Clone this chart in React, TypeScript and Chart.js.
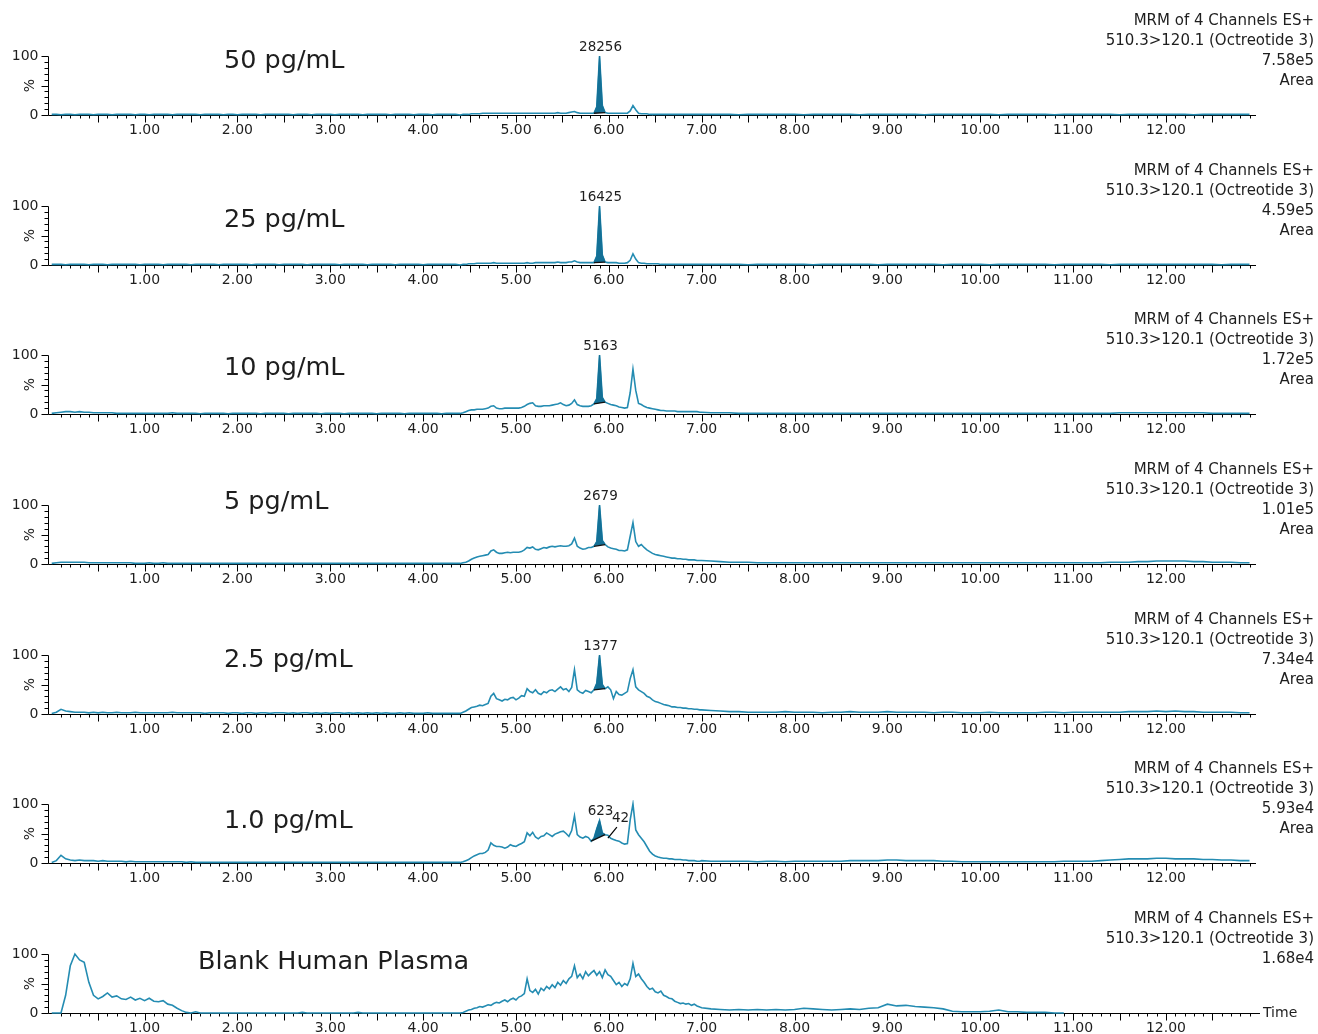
import React, { useEffect, useRef } from "react";
import { Chart, registerables } from "chart.js";

Chart.register(...registerables);

// ---------------- DATA ----------------
const SAMPLE_NAMES = ["50 pg/mL", "25 pg/mL", "10 pg/mL", "5 pg/mL", "2.5 pg/mL", "1.0 pg/mL", "Blank Human Plasma"];
const HEADER_LINE1 = "MRM of 4 Channels ES+";
const HEADER_LINE2 = "510.3>120.1 (Octreotide 3)";
const INTENSITIES = ["7.58e5", "4.59e5", "1.72e5", "1.01e5", "7.34e4", "5.93e4", "1.68e4"];
const SHOW_AREA = [true, true, true, true, true, true, false];
const PEAK_AREAS = ["28256", "16425", "5163", "2679", "1377", "623", ""];
const PEAK_APEX_TIME = 5.9;
const PEAK_START = [5.84, 5.84, 5.84, 5.84, 5.84, 5.81, 0];
const PEAK_END = [5.96, 5.96, 5.96, 5.96, 5.96, 5.96, 0];
const SECOND_PEAK = { panel: 5, label: "42", time: 5.99, value: 42 };

const X_TICK_VALUES = [1, 2, 3, 4, 5, 6, 7, 8, 9, 10, 11, 12];
const X_TICK_LABELS = ["1.00", "2.00", "3.00", "4.00", "5.00", "6.00", "7.00", "8.00", "9.00", "10.00", "11.00", "12.00"];
const Y_TICK_LABELS = ["0", "100"];

// sampling grid of the chromatograms (minutes)
const grid = (a: number, b: number, step: number) => {
  const n = Math.round((b - a) / step);
  const out: number[] = [];
  for (let i = 0; i <= n; i++) out.push(+(a + i * step).toFixed(2));
  return out;
};
const TIME = [...grid(0, 4.35, 0.05), ...grid(4.4, 6.98, 0.03), ...grid(7.0, 12.9, 0.1)];

// intensities (%) : 88 pts (0-4.35) | 87 pts (4.40-6.98) | 60 pts (7.0-12.9)
const TRACE_50 = [
  1, 1, 0.5, 1, 1, 0.5, 1, 1, 1, 0.5,
  1, 1, 1, 0.5, 1, 1, 1, 1, 0.5, 1,
  1, 0.5, 1, 1, 1, 1, 0.5, 1, 1, 1,
  1, 1, 0.5, 1, 1, 1, 1, 0.5, 1, 1,
  0.5, 1, 1, 1, 1, 0.5, 1, 1, 1, 1,
  1, 1, 0.5, 1, 1, 1, 0.5, 1, 1, 1,
  1, 0.5, 1, 1, 1, 1, 1, 0.5, 1, 1,
  1, 1, 1, 0.5, 1, 1, 1, 1, 0.5, 1,
  1, 1, 0.5, 1, 1, 1, 1, 1,
  0, 1, 1, 1, 2, 2, 2, 2, 3, 3,
  3, 3, 3, 3, 3, 3, 3, 3, 3, 3,
  3, 3, 3, 3, 3, 3, 3, 3, 3, 3,
  3, 3, 3, 3, 3, 4, 3, 3, 3, 4,
  5, 6, 4, 3, 3, 3, 3, 3, 3, 14,
  100, 16, 4, 3, 3, 3, 3, 3, 3, 3,
  3, 7, 16, 9, 3, 2, 2, 2, 1, 1,
  1, 1, 1, 1, 1, 1, 1, 1, 1, 1,
  1, 1, 1, 1, 1, 1, 1,
  1, 1, 1, 1, 0.5, 1, 1, 1, 1, 1,
  1, 0.5, 1, 1, 1, 1, 1, 0.5, 1, 1,
  1, 1, 1, 1, 0.5, 1, 1, 1, 1, 1,
  1, 1, 0.5, 1, 1, 1, 1, 1, 0.5, 1,
  1, 1, 1, 1, 1, 0.5, 1, 1, 1, 1,
  1, 1, 1, 0.5, 1, 1, 1, 1, 1, 1,
];
const TRACE_25 = [
  1, 1, 1, 0.5, 1, 1, 1, 1, 0.5, 1,
  1, 1, 0.5, 1, 1, 1, 1, 1, 1, 0.5,
  1, 1, 1, 1, 0.5, 1, 1, 1, 1, 1,
  0.5, 1, 1, 1, 1, 1, 0.5, 1, 1, 1,
  1, 1, 1, 0.5, 1, 1, 1, 1, 1, 0.5,
  1, 1, 1, 1, 1, 0.5, 1, 1, 1, 1,
  1, 1, 0.5, 1, 1, 1, 1, 1, 0.5, 1,
  1, 1, 1, 1, 0.5, 1, 1, 1, 1, 1,
  0.5, 1, 1, 1, 1, 1, 1, 1,
  0, 1, 1, 2, 2, 2, 3, 3, 3, 3,
  3, 3, 4, 3, 3, 3, 3, 3, 3, 3,
  3, 3, 3, 3, 4, 3, 3, 4, 4, 4,
  4, 4, 4, 4, 4, 5, 4, 4, 4, 5,
  5, 7, 5, 4, 4, 4, 4, 4, 4, 15,
  100, 17, 5, 4, 4, 4, 4, 3, 3, 3,
  4, 8, 19, 10, 4, 3, 3, 2, 2, 2,
  2, 2, 1, 1, 1, 1, 1, 1, 1, 1,
  1, 1, 1, 1, 1, 1, 1,
  1, 1, 1, 1, 1, 0.5, 1, 1, 1, 1,
  1, 1, 0.5, 1, 1, 1, 1, 1, 1, 0.5,
  1, 1, 1, 1, 1, 1, 0.5, 1, 1, 1,
  1, 0.5, 1, 1, 1, 1, 1, 1, 0.5, 1,
  1, 1, 1, 1, 0.5, 1, 1, 1, 1, 1,
  1, 1, 1, 1, 1, 1, 0.5, 1, 1, 1,
];
const TRACE_10 = [
  1, 2, 3, 4, 4, 3, 4, 3, 3, 2,
  2, 2, 2, 2, 1, 1, 1, 1, 1, 1,
  1, 1, 1, 1, 1, 1, 2, 1, 1, 1,
  1, 1, 0.5, 1, 1, 1, 1, 1, 0.5, 1,
  1, 1, 1, 1, 1, 0.5, 1, 1, 1, 1,
  1, 0.5, 1, 1, 1, 1, 1, 1, 0.5, 1,
  1, 1, 1, 0.5, 1, 1, 1, 1, 1, 1,
  0.5, 1, 1, 1, 1, 1, 0.5, 1, 1, 1,
  1, 1, 1, 1, 0.5, 1, 1, 1,
  1, 2, 4, 6, 7, 7, 8, 8, 8, 9,
  10, 13, 14, 10, 9, 9, 10, 10, 10, 10,
  10, 10, 11, 13, 16, 18, 19, 14, 13, 13,
  14, 14, 14, 15, 16, 17, 19, 16, 14, 15,
  18, 24, 16, 14, 13, 13, 13, 14, 17, 26,
  100, 28, 20, 18, 16, 15, 14, 12, 11, 10,
  11, 36, 76, 40, 18, 16, 13, 11, 10, 9,
  8, 7, 6, 6, 5, 5, 5, 5, 4, 4,
  4, 4, 4, 4, 4, 4, 3,
  3, 2, 2, 2, 1, 1, 1, 1, 1, 1,
  1, 1, 1, 1, 1, 1, 1, 1, 1, 1,
  1, 1, 1, 1, 1, 1, 1, 1, 1, 1,
  1, 1, 1, 1, 1, 1, 1, 1, 1, 1,
  1, 1, 1, 1, 1, 2, 2, 2, 2, 2,
  2, 2, 2, 2, 2, 1, 1, 1, 1, 1,
];
const TRACE_5 = [
  1, 2, 3, 3, 3, 3, 3, 3, 2, 2,
  2, 2, 2, 2, 2, 2, 2, 2, 1, 1,
  1, 2, 1, 1, 2, 1, 1, 1, 1, 1,
  1, 1, 1, 1, 1, 1, 1, 1, 1, 1,
  1, 1, 1, 1, 1, 1, 1, 1, 1, 1,
  1, 1, 1, 1, 1, 1, 1, 1, 1, 1,
  1, 1, 1, 1, 1, 1, 1, 1, 1, 1,
  1, 1, 1, 1, 1, 1, 1, 1, 1, 1,
  1, 1, 1, 1, 1, 1, 1, 1,
  1, 2, 3, 5, 8, 10, 12, 13, 14, 15,
  16, 22, 24, 20, 18, 18, 19, 20, 19, 20,
  20, 20, 21, 24, 28, 27, 29, 25, 24, 26,
  28, 27, 29, 30, 29, 30, 31, 30, 30, 31,
  34, 44, 30, 27, 25, 26, 28, 28, 30, 38,
  100, 40, 33, 29, 27, 26, 25, 23, 23, 22,
  24, 47, 70, 38, 30, 33, 28, 24, 21, 18,
  16, 15, 14, 13, 12, 11, 10, 10, 9, 9,
  8, 8, 7, 7, 7, 6, 6,
  6, 5, 4, 3, 3, 3, 2, 2, 2, 2,
  2, 2, 2, 2, 2, 2, 2, 2, 2, 2,
  2, 2, 2, 2, 2, 2, 2, 2, 2, 2,
  2, 2, 2, 2, 2, 2, 2, 2, 2, 2,
  2, 2, 2, 2, 3, 3, 3, 4, 4, 5,
  5, 5, 5, 4, 4, 3, 3, 3, 2, 2,
];
const TRACE_2_5 = [
  1, 3, 8, 5, 4, 3, 3, 3, 2, 3,
  2, 3, 2, 2, 3, 2, 2, 2, 3, 2,
  2, 2, 2, 2, 2, 2, 3, 2, 2, 2,
  2, 2, 2, 1, 2, 2, 2, 2, 1, 2,
  2, 1, 2, 2, 1, 2, 2, 1, 2, 2,
  2, 1, 2, 1, 2, 2, 1, 2, 1, 2,
  1, 2, 2, 1, 2, 1, 2, 1, 2, 1,
  2, 1, 2, 1, 1, 2, 1, 2, 1, 1,
  1, 2, 1, 1, 1, 1, 1, 1,
  1, 3, 5, 8, 11, 12, 13, 15, 14, 16,
  18, 30, 35, 26, 24, 22, 25, 24, 27, 28,
  24, 27, 31, 30, 43, 38, 36, 41, 35, 33,
  38, 36, 40, 41, 38, 42, 46, 41, 43, 38,
  45, 75, 41, 37, 35, 40, 38, 36, 41, 52,
  100, 50, 43, 46, 41, 26, 38, 33, 32, 35,
  38, 60, 75, 46, 41, 38, 35, 30, 28, 24,
  21, 20, 18, 16, 15, 14, 12, 12, 11, 11,
  10, 10, 9, 9, 8, 8, 7,
  7, 6, 5, 4, 4, 3, 3, 3, 3, 4,
  3, 3, 3, 2, 3, 3, 4, 3, 3, 3,
  4, 3, 3, 3, 3, 2, 3, 3, 2, 2,
  2, 3, 2, 2, 2, 2, 2, 3, 3, 2,
  3, 3, 3, 3, 3, 3, 4, 4, 4, 5,
  4, 5, 4, 4, 3, 3, 3, 3, 2, 2,
];
const TRACE_1 = [
  1, 4, 13, 7, 5, 4, 5, 4, 4, 4,
  3, 4, 3, 3, 3, 3, 2, 3, 2, 2,
  2, 2, 2, 2, 2, 2, 2, 2, 2, 1,
  2, 1, 1, 1, 1, 1, 1, 1, 1, 1,
  1, 1, 1, 1, 1, 1, 1, 1, 1, 1,
  1, 1, 1, 1, 1, 1, 1, 1, 1, 1,
  1, 1, 1, 1, 1, 1, 1, 1, 1, 1,
  1, 1, 1, 1, 1, 1, 1, 1, 1, 1,
  1, 1, 1, 1, 1, 1, 1, 1,
  1, 2, 4, 6, 9, 12, 14, 16, 16, 18,
  22, 34, 30, 28, 28, 27, 25, 27, 31, 29,
  28, 31, 33, 36, 51, 46, 52, 44, 41, 45,
  46, 51, 48, 45, 49, 51, 53, 54, 50, 45,
  55, 80, 48, 44, 42, 45, 43, 37, 42, 58,
  72, 51, 48, 47, 42, 40, 38, 37, 34, 32,
  33, 73, 100, 56, 48, 42, 36, 28, 20, 15,
  12, 10, 9, 8, 8, 7, 7, 6, 6, 6,
  5, 5, 4, 4, 4, 3, 3,
  4, 3, 3, 3, 3, 3, 2, 3, 3, 2,
  3, 3, 3, 3, 3, 3, 4, 4, 4, 4,
  5, 5, 4, 4, 4, 4, 3, 3, 2, 2,
  2, 2, 2, 2, 2, 2, 2, 2, 2, 3,
  3, 3, 3, 4, 5, 6, 7, 7, 7, 8,
  8, 7, 7, 7, 6, 6, 5, 5, 4, 4,
];
const TRACE_BLANK = [
  0, 0, 0, 30, 80, 100, 90, 86, 52, 30,
  24, 28, 34, 27, 29, 24, 23, 27, 22, 25,
  21, 25, 20, 19, 21, 15, 13, 8, 4, 1,
  0, 2, 0, 0, 0, 0, 0, 0, 0, 0,
  0, 0, 0, 0, 0, 0, 0, 0, 0, 0,
  0, 0, 0, 0, 1, 0, 0, 0, 0, 0,
  0, 0, 0, 0, 0, 0, 1, 0, 0, 0,
  0, 0, 0, 0, 0, 0, 0, 0, 0, 0,
  0, 0, 0, 0, 0, 0, 0, 0,
  0, 1, 3, 5, 6, 8, 9, 11, 10, 12,
  14, 13, 16, 18, 17, 20, 22, 19, 23, 25,
  22, 27, 29, 33, 58, 38, 35, 40, 32, 42,
  38, 45, 41, 48, 43, 52, 47, 55, 50, 58,
  62, 80, 60, 66, 58, 70, 63, 68, 72, 64,
  70, 60, 73, 65, 62, 55, 48, 52, 45, 50,
  47, 58, 84, 62, 66, 58, 52, 45, 40, 42,
  36, 34, 37, 30, 28, 25, 24, 20, 18, 16,
  17, 15, 16, 13, 15, 12, 10,
  9, 7, 6, 5, 6, 5, 6, 5, 6, 5,
  6, 8, 7, 6, 5, 6, 7, 6, 8, 9,
  15, 12, 13, 11, 10, 9, 7, 3, 2, 2,
  2, 3, 5, 2, 2, 1, 1, 1, 0, 0,
  null, null, null, null, null, null, null, null, null, null,
  null, null, null, null, null, null, null, null, null, null,
];
const TRACES = [TRACE_50, TRACE_25, TRACE_10, TRACE_5, TRACE_2_5, TRACE_1, TRACE_BLANK];

// ---------------- LAYOUT / STYLE ----------------
const W = 1318;
const H = 1034;
const BASELINE_Y = [115, 265, 414, 564, 714, 863, 1013];
const CANVAS_H = 150;
const PLOT_LEFT = 48;
const PLOT_RIGHT = 1256;
const PLOT_H = 59;
const X_MIN = -0.04;
const X_MAX = 12.97;
const NAME_X = [224, 224, 224, 224, 224, 224, 198];
const NAME_DY = [-54, -45, -46, -62, -54, -42, -51];
const FONT = "'DejaVu Sans', Verdana, sans-serif";
const LINE_COLOR = "rgb(36,140,178)";
const FILL_COLOR = "rgb(20,112,150)";
const TEXT_COLOR = "#1e1e1e";

const chromPlugin = {
  id: "chrom",
  beforeDatasetsDraw(chart: any, _args: any, opts: any) {
    const { ctx, chartArea: ca, scales } = chart;
    const x = scales.x;
    const y = scales.y;
    const last = opts.index === 6;
    ctx.save();
    ctx.strokeStyle = "#000";
    ctx.lineWidth = 1;
    ctx.beginPath();
    const ax = Math.round(ca.left) + 0.5;
    const by = Math.round(y.getPixelForValue(0)) + 0.5;
    ctx.moveTo(ax, Math.round(y.getPixelForValue(100)) + 0.5);
    ctx.lineTo(ax, by);
    for (let v = 0; v <= 100; v += 10) {
      const py = Math.round(y.getPixelForValue(v)) + 0.5;
      const len = v % 50 === 0 ? 7 : 4;
      ctx.moveTo(ax - len, py);
      ctx.lineTo(ax, py);
    }
    ctx.moveTo(ax, by);
    ctx.lineTo(last ? 1260 : ca.right, by);
    for (let i = 1; i <= 129; i++) {
      const px = Math.round(x.getPixelForValue(i / 10)) + 0.5;
      const len = i % 5 === 0 ? 7 : 3;
      ctx.moveTo(px, by);
      ctx.lineTo(px, by + len);
    }
    ctx.stroke();

    ctx.fillStyle = TEXT_COLOR;
    ctx.font = `14px ${FONT}`;
    ctx.textAlign = "center";
    ctx.textBaseline = "middle";
    X_TICK_VALUES.forEach((t, i) => {
      ctx.fillText(X_TICK_LABELS[i], x.getPixelForValue(t), by + 15);
    });
    ctx.textAlign = "right";
    ctx.fillText(Y_TICK_LABELS[0], ax - 10, y.getPixelForValue(0));
    ctx.fillText(Y_TICK_LABELS[1], ax - 10, y.getPixelForValue(100));
    ctx.save();
    ctx.translate(ax - 18, y.getPixelForValue(50));
    ctx.rotate(-Math.PI / 2);
    ctx.textAlign = "center";
    ctx.fillText("%", 0, 0);
    ctx.restore();
    if (last) {
      ctx.textAlign = "left";
      ctx.font = `14px ${FONT}`;
      ctx.fillText("Time", 1263, by);
    }
    ctx.restore();
  },
  afterDraw(chart: any, _args: any, opts: any) {
    const { ctx, scales } = chart;
    const x = scales.x;
    const y = scales.y;
    const i = opts.index;
    const by = y.getPixelForValue(0);
    ctx.save();
    ctx.fillStyle = TEXT_COLOR;
    ctx.textBaseline = "middle";
    // header
    ctx.font = `15px ${FONT}`;
    ctx.textAlign = "right";
    const lines = [HEADER_LINE1, HEADER_LINE2, INTENSITIES[i]];
    if (SHOW_AREA[i]) lines.push("Area");
    lines.forEach((s, k) => ctx.fillText(s, 1314, by - 94 + k * 20));
    // sample name
    ctx.font = `25.5px ${FONT}`;
    ctx.textAlign = "left";
    ctx.fillText(SAMPLE_NAMES[i], NAME_X[i], by + NAME_DY[i]);
    // peak label
    if (PEAK_AREAS[i]) {
      const idx = TIME.findIndex((t) => Math.abs(t - PEAK_APEX_TIME) < 1e-6);
      const apex = TRACES[i][idx] as number;
      ctx.font = `13.5px ${FONT}`;
      ctx.textAlign = "center";
      ctx.fillText(PEAK_AREAS[i], x.getPixelForValue(PEAK_APEX_TIME) + 1, y.getPixelForValue(apex + 15));
    }
    if (SECOND_PEAK.panel === i) {
      const px = x.getPixelForValue(SECOND_PEAK.time);
      const py = y.getPixelForValue(SECOND_PEAK.value);
      ctx.strokeStyle = "#000";
      ctx.lineWidth = 1.2;
      ctx.beginPath();
      ctx.moveTo(px, py);
      ctx.lineTo(px + 9, py - 11);
      ctx.stroke();
      ctx.font = `13.5px ${FONT}`;
      ctx.textAlign = "left";
      ctx.fillText(SECOND_PEAK.label, px + 4, py - 20);
    }
    ctx.restore();
  },
};

function buildConfig(i: number): any {
  const vals = TRACES[i];
  const trace = TIME.map((t, k) => ({ x: t, y: vals[k] }));
  const datasets: any[] = [
    {
      data: trace,
      borderColor: LINE_COLOR,
      borderWidth: 1.6,
      pointRadius: 0,
      tension: 0,
      spanGaps: false,
      fill: false,
      order: 3,
      clip: 4,
    },
  ];
  if (PEAK_AREAS[i]) {
    const s = PEAK_START[i];
    const e = PEAK_END[i];
    const peakPts = trace.filter((p) => p.x >= s - 1e-6 && p.x <= e + 1e-6);
    const base = [peakPts[0], peakPts[peakPts.length - 1]];
    datasets.push({
      data: base,
      borderColor: "#111",
      borderWidth: 1.3,
      pointRadius: 0,
      fill: false,
      order: 0,
      clip: 4,
    });
    datasets.push({
      data: peakPts,
      borderColor: FILL_COLOR,
      borderWidth: 1,
      backgroundColor: FILL_COLOR,
      pointRadius: 0,
      fill: 1,
      order: 1,
      clip: 4,
    });
  }
  return {
    type: "line",
    data: { datasets },
    options: {
      animation: false,
      responsive: false,
      devicePixelRatio: 1,
      events: [],
      layout: { padding: { left: PLOT_LEFT, right: W - PLOT_RIGHT, top: 115 - PLOT_H, bottom: CANVAS_H - 115 } },
      scales: {
        x: { type: "linear", min: X_MIN, max: X_MAX, display: false },
        y: { type: "linear", min: 0, max: 100, display: false },
      },
      plugins: {
        legend: { display: false },
        tooltip: { enabled: false },
        chrom: { index: i },
      },
    },
    plugins: [chromPlugin],
  };
}

function Panel({ index }: { index: number }) {
  const ref = useRef<HTMLCanvasElement | null>(null);
  useEffect(() => {
    if (!ref.current) return;
    const chart = new Chart(ref.current, buildConfig(index));
    return () => chart.destroy();
  }, [index]);
  return (
    <canvas
      ref={ref}
      width={W}
      height={CANVAS_H}
      style={{ position: "absolute", left: 0, top: BASELINE_Y[index] - 115, width: W, height: CANVAS_H }}
    />
  );
}

export default function App() {
  return (
    <div style={{ position: "absolute", left: 0, top: 0, width: W, height: H, background: "#fff", overflow: "hidden" }}>
      {TRACES.map((_, i) => (
        <Panel key={i} index={i} />
      ))}
    </div>
  );
}
